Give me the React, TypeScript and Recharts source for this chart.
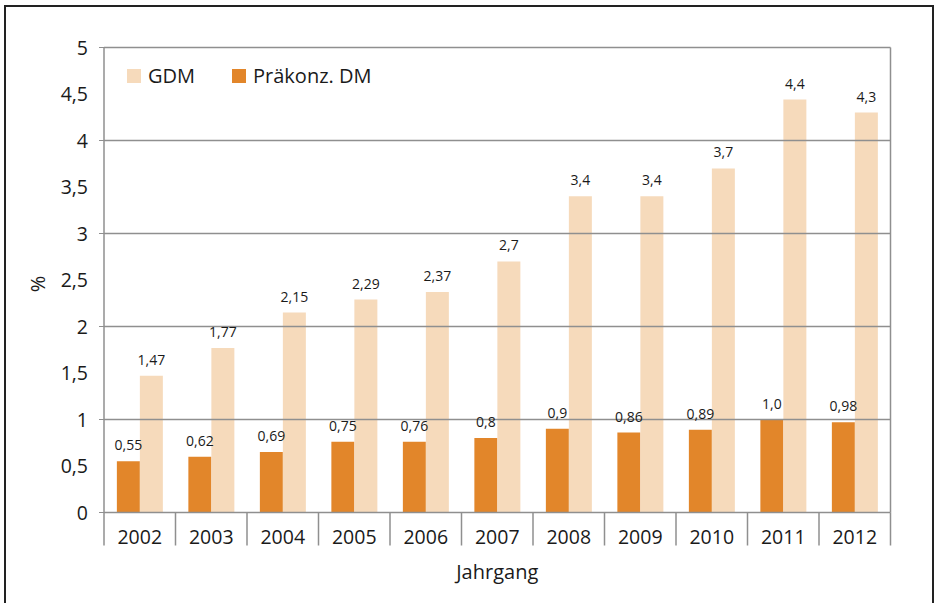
import React from 'react';
import { BarChart, Bar, XAxis, YAxis, Legend, LabelList, ReferenceLine } from 'recharts';

const years = ['2002', '2003', '2004', '2005', '2006', '2007', '2008', '2009', '2010', '2011', '2012'];
const gdmValues = [1.47, 1.77, 2.15, 2.29, 2.37, 2.7, 3.4, 3.4, 3.7, 4.44, 4.3];
const dmValues = [0.55, 0.6, 0.65, 0.76, 0.76, 0.8, 0.9, 0.86, 0.89, 1.0, 0.97];
const gdmLabels = ['1,47', '1,77', '2,15', '2,29', '2,37', '2,7', '3,4', '3,4', '3,7', '4,4', '4,3'];
const dmLabels = ['0,55', '0,62', '0,69', '0,75', '0,76', '0,8', '0,9', '0,86', '0,89', '1,0', '0,98'];
const yTicks = [0, 0.5, 1, 1.5, 2, 2.5, 3, 3.5, 4, 4.5, 5];
const gridValues = [1, 2, 3, 4, 5];

const legendItems = [
  { name: 'GDM', color: '#F6DABB' },
  { name: 'Präkonz. DM', color: '#E2862A' },
];

const data = years.map((year, i) => ({
  year,
  gdm: gdmValues[i],
  dm: dmValues[i],
  gdmLabel: gdmLabels[i],
  dmLabel: dmLabels[i],
}));

const FONT = '"Open Sans", sans-serif';
const TEXT = '#1a1a1a';
const LINE = '#8f8f8f';

const W = 935;
const H = 603;
const LEFT = 104;
const RIGHT = 44.5;
const TOP = 47.5;
const BOTTOM = 90.5;
const BAND = (W - LEFT - RIGHT) / years.length;

function YTick(props: any) {
  const { y, payload } = props;
  const isInt = Number.isInteger(payload.value);
  return (
    <g>
      {isInt && <line x1={LEFT - 5} x2={LEFT} y1={y} y2={y} stroke={LINE} strokeWidth={1} />}
      <text x={LEFT - 16} y={y} dy={7} textAnchor="end" fontSize={19.5} fontFamily={FONT} fill={TEXT}>
        {String(payload.value).replace('.', ',')}
      </text>
    </g>
  );
}

function XTick(props: any) {
  const { x, y, payload, index } = props;
  const half = payload.offset || BAND / 2;
  return (
    <g>
      <line x1={x - half} x2={x - half} y1={y} y2={y + 33} stroke={LINE} strokeWidth={1.5} />
      {index === years.length - 1 && (
        <line x1={x + half} x2={x + half} y1={y} y2={y + 33} stroke={LINE} strokeWidth={1.5} />
      )}
      <text x={x} y={y + 31.5} textAnchor="middle" fontSize={19.5} fontFamily={FONT} fill={TEXT}>
        {payload.value}
      </text>
    </g>
  );
}

function YLabel(props: any) {
  const { viewBox } = props;
  const cy = viewBox.y + viewBox.height / 2 + 4;
  const cx = 37;
  return (
    <text
      x={cx}
      y={cy}
      transform={`rotate(-90 ${cx} ${cy})`}
      textAnchor="middle"
      dominantBaseline="central"
      fontSize={20}
      fontFamily={FONT}
      fill={TEXT}
    >
      %
    </text>
  );
}

function renderLegend() {
  return (
    <div style={{ display: 'flex', alignItems: 'center', fontFamily: FONT, fontSize: 20, color: TEXT }}>
      {legendItems.map((item, i) => (
        <div key={item.name} style={{ display: 'flex', alignItems: 'center', marginRight: i === 0 ? 37 : 0 }}>
          <span style={{ display: 'inline-block', width: 14, height: 14, background: item.color, marginRight: 7 }} />
          <span>{item.name}</span>
        </div>
      ))}
    </div>
  );
}

export default function App() {
  return (
    <div style={{ position: 'absolute', left: 0, top: 0, width: W, height: H, overflow: 'hidden', background: '#fff' }}>
      <div
        style={{
          position: 'absolute',
          left: 4,
          top: 5,
          width: 930,
          height: 640,
          border: '2px solid #222',
          boxSizing: 'border-box',
        }}
      />
      <BarChart
        width={W}
        height={H}
        data={data}
        margin={{ top: TOP, right: 0, bottom: 0, left: 0 }}
        barCategoryGap="18%"
        barGap={0}
      >
        <XAxis
          dataKey="year"
          height={BOTTOM}
          tickSize={0}
          tickMargin={0}
          tickLine={false}
          axisLine={{ stroke: LINE, strokeWidth: 1.5 }}
          tick={<XTick />}
          interval={0}
          label={{ value: 'Jahrgang', position: 'insideBottom', offset: 24, fontSize: 20, fontFamily: FONT, fill: TEXT }}
        />
        <YAxis
          width={LEFT}
          domain={[0, 5]}
          ticks={yTicks}
          interval={0}
          tickLine={false}
          axisLine={{ stroke: LINE, strokeWidth: 1.5 }}
          tick={<YTick />}
          label={<YLabel />}
        />
        <YAxis
          yAxisId="right"
          orientation="right"
          width={RIGHT}
          domain={[0, 5]}
          tick={false}
          tickLine={false}
          axisLine={{ stroke: LINE, strokeWidth: 1.5 }}
        />
        <Legend
          layout="horizontal"
          verticalAlign="middle"
          align="center"
          content={renderLegend}
          wrapperStyle={{ top: 62, left: 127, width: 'auto', height: 'auto' }}
        />
        <Bar dataKey="dm" fill="#E2862A" isAnimationActive={false}>
          <LabelList dataKey="dmLabel" position="top" offset={11} fontSize={14} fontFamily={FONT} fill={TEXT} />
        </Bar>
        <Bar dataKey="gdm" fill="#F6DABB" isAnimationActive={false}>
          <LabelList dataKey="gdmLabel" position="top" offset={11} fontSize={14} fontFamily={FONT} fill={TEXT} />
        </Bar>
        {gridValues.map((v) => (
          <ReferenceLine key={v} y={v} stroke={LINE} strokeWidth={1.5} />
        ))}
      </BarChart>
    </div>
  );
}
